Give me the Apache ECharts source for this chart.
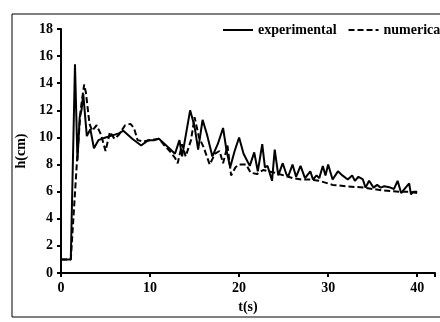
<!DOCTYPE html>
<html>
<head>
<meta charset="utf-8">
<script src="https://cdn.jsdelivr.net/npm/echarts@6/dist/echarts.min.js"></script>
<style>
  html, body { margin: 0; padding: 0; background: #fff; }
  #chart { width: 440px; height: 322px; }
</style>
</head>
<body>
<div id="chart"></div>
<script>
// experimental (solid)
var expT = [0, 1.1, 1.57, 1.85, 2.1, 2.3, 2.5, 2.9, 3.3, 3.7, 4.2, 5, 5.5, 6.5, 7, 8, 9, 9.8, 10.5, 11, 12, 12.8, 13.3, 13.6, 14.5, 15, 15.4, 15.9, 16.4, 17, 17.6, 18.2, 18.6, 19, 19.5, 20, 20.5, 21.2, 21.7, 22.1, 22.6, 22.9, 23.2, 23.7, 24, 24.4, 24.9, 25.3, 25.5, 26, 26.4, 26.9, 27.4, 27.6, 28, 28.3, 28.7, 29, 29.4, 29.7, 30, 30.5, 31.1, 31.6, 32.2, 32.7, 33, 33.4, 33.9, 34.2, 34.6, 35.1, 35.5, 35.9, 36.3, 37, 37.4, 37.8, 38.2, 38.7, 39.1, 39.3, 39.6, 40];
var expH = [1, 1, 15.4, 8.3, 11.5, 12, 13.2, 10.1, 10.6, 9.2, 9.8, 10, 10.1, 10.3, 10.5, 9.9, 9.4, 9.8, 9.8, 9.9, 9.3, 8.8, 9.8, 8.6, 12, 10.8, 9.1, 11.3, 10.2, 8.6, 9.5, 10.7, 9, 7.8, 9, 10, 8.8, 7.9, 8.9, 7.5, 9.5, 7.8, 7.9, 6.8, 9.1, 7.2, 8.1, 7.3, 7.1, 8, 7.1, 7.9, 7, 6.9, 7.5, 6.9, 7.2, 7, 7.9, 7.2, 8, 6.9, 7.5, 7.2, 6.9, 7.2, 6.8, 7.1, 6.9, 6.3, 6.8, 6.3, 6.5, 6.3, 6.4, 6.3, 6.2, 6.8, 5.9, 6.3, 6.6, 5.8, 6, 6];
// numerical (dashed)
var numT = [0, 1.1, 1.8, 2.2, 2.6, 2.8, 3.2, 3.5, 4, 4.5, 5, 5.5, 6, 6.5, 7.2, 7.8, 8.2, 8.6, 9.2, 10, 11, 11.5, 12.2, 12.8, 13.1, 13.6, 14, 14.6, 15, 15.5, 16, 16.7, 17.3, 17.8, 18.2, 18.7, 19.1, 19.6, 20, 20.8, 21.3, 22, 22.7, 23.3, 24, 25, 26, 27, 28, 29, 30.5, 32, 33, 34, 35, 36, 37, 38, 39, 40];
var numH = [1, 1, 8.3, 12, 13.9, 13.3, 11, 10.5, 10.9, 10.2, 9, 10.4, 9.9, 10.2, 10.9, 11, 10.7, 9.8, 9.7, 9.8, 9.9, 9.5, 9, 8.5, 8.1, 9.5, 8.6, 9.8, 11.5, 10, 9.3, 8, 8.8, 9, 8.1, 9.4, 7.2, 7.8, 8, 8, 7.4, 7.3, 7.6, 7.5, 7.4, 7.2, 7, 6.9, 6.9, 6.8, 6.5, 6.4, 6.35, 6.3, 6.2, 6.1, 6.05, 6, 6, 5.9];
var xTicks = [0, 10, 20, 30, 40];
var yTicks = [0, 2, 4, 6, 8, 10, 12, 14, 16, 18];

function pairs(t, h) {
  var out = [];
  for (var i = 0; i < t.length; i++) out.push([t[i], h[i]]);
  return out;
}

var font = "'Liberation Serif', 'Times New Roman', serif";
var chart = echarts.init(document.getElementById('chart'));
chart.setOption({
  animation: false,
  graphic: [{
    type: 'rect',
    shape: { x: 12, y: 14, width: 460, height: 303 },
    style: { fill: 'none', stroke: '#000', lineWidth: 1 },
    silent: true
  }],
  legend: {
    orient: 'horizontal',
    left: 217,
    top: 18,
    width: 400,
    itemWidth: 30,
    itemHeight: 10,
    itemGap: 11,
    itemStyle: { opacity: 0 },
    textStyle: { fontFamily: font, fontWeight: 'bold', fontSize: 14, color: '#000' },
    data: ['experimental', 'numerical']
  },
  grid: { left: 61, right: 5, top: 29, bottom: 49, containLabel: false },
  xAxis: {
    type: 'value',
    min: 0,
    max: 42,
    interval: 10,
    name: 't(s)',
    nameLocation: 'middle',
    nameGap: 27,
    nameTextStyle: { fontFamily: font, fontWeight: 'bold', fontSize: 14, color: '#000' },
    axisLine: { lineStyle: { color: '#000', width: 2 } },
    axisTick: { show: true, length: 4, lineStyle: { color: '#000', width: 2 } },
    axisLabel: {
      fontFamily: font, fontWeight: 'bold', fontSize: 14, color: '#000', margin: 8,
      formatter: function (v) { return xTicks.indexOf(v) >= 0 ? String(v) : ''; }
    },
    splitLine: { show: false }
  },
  yAxis: {
    type: 'value',
    min: 0,
    max: 18,
    interval: 2,
    name: 'h(cm)',
    nameLocation: 'middle',
    nameGap: 28,
    nameTextStyle: { fontFamily: font, fontWeight: 'bold', fontSize: 14, color: '#000' },
    axisLine: { show: true, lineStyle: { color: '#000', width: 2 } },
    axisTick: { show: true, length: 4, lineStyle: { color: '#000', width: 2 } },
    axisLabel: {
      fontFamily: font, fontWeight: 'bold', fontSize: 14, color: '#000', margin: 8,
      formatter: function (v) { return yTicks.indexOf(v) >= 0 ? String(v) : ''; }
    },
    splitLine: { show: false }
  },
  series: [{
    name: 'experimental',
    type: 'line',
    showSymbol: false,
    symbol: 'none',
    data: pairs(expT, expH),
    lineStyle: { color: '#000', width: 2 },
    itemStyle: { color: '#000' }
  }, {
    name: 'numerical',
    type: 'line',
    showSymbol: false,
    symbol: 'none',
    data: pairs(numT, numH),
    lineStyle: { color: '#000', width: 2, type: [6, 3] },
    itemStyle: { color: '#000' }
  }]
});
</script>
</body>
</html>
